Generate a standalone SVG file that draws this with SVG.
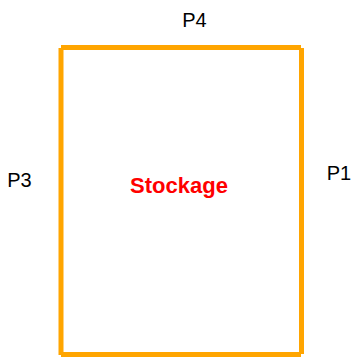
<svg xmlns="http://www.w3.org/2000/svg" width="353" height="359" viewBox="0 0 353 359">
  <style>
    .wall { stroke: #FFA500; stroke-width: 5; fill: none; stroke-linecap: butt; }
    .lbl { font-family: "Liberation Sans", Arial, sans-serif; font-size: 20px; fill: #000; text-anchor: middle; }
    .title { font-family: "Liberation Sans", Arial, sans-serif; font-size: 22px; font-weight: bold; fill: #FF0000; text-anchor: middle; }
  </style>
  <rect width="353" height="359" fill="#fff"/>
  <g id="connectors">
    <line class="wall" x1="61" y1="47.5" x2="301" y2="47.5"/>
    <line class="wall" x1="61" y1="48" x2="61" y2="355"/>
    <line class="wall" x1="61" y1="354.5" x2="301" y2="354.5"/>
    <line class="wall" x1="301.5" y1="48" x2="301.5" y2="354"/>
  </g>
  <g id="stockage">
    <text class="title" x="179" y="192.7">Stockage</text>
  </g>
  <g id="p4">
    <text class="lbl" x="194.5" y="27.3">P4</text>
  </g>
  <g id="p3">
    <text class="lbl" x="19.5" y="187.3">P3</text>
  </g>
  <g id="p1">
    <text class="lbl" x="339" y="180">P1</text>
  </g>
</svg>
